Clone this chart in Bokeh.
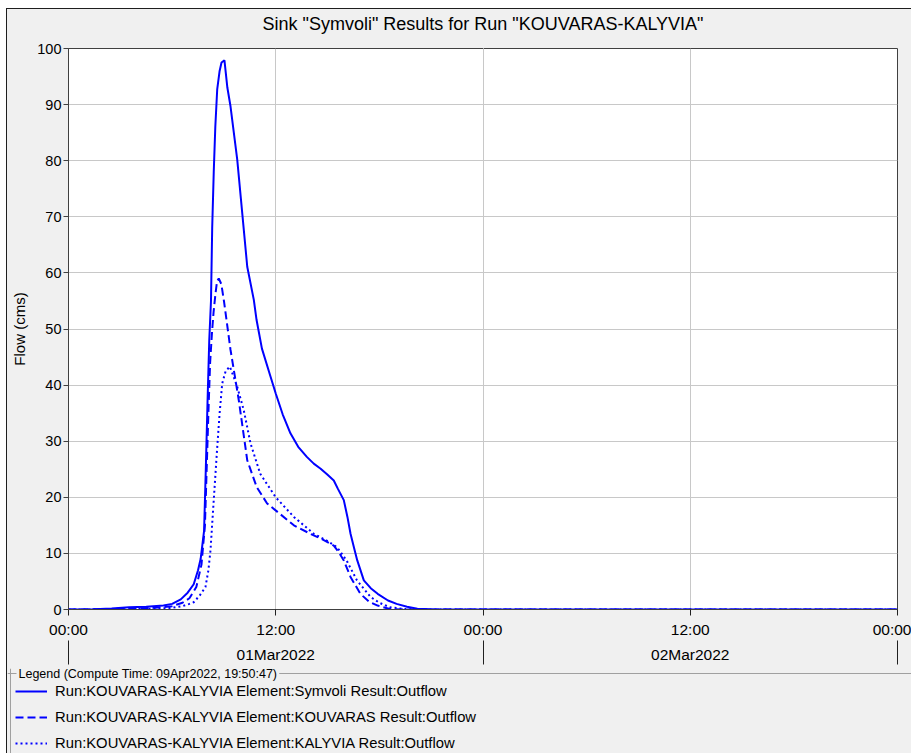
from bokeh.plotting import figure
from bokeh.layouts import column
from bokeh.models import (FixedTicker, LinearAxis, Legend, LegendItem, Label,
                          Span, Range1d, Title)
from bokeh.embed import file_html
from bokeh.resources import INLINE

# Time axis: hours after 01Mar2022 00:00
time_ticks = [0, 12, 24, 36, 48]
time_labels = ["00:00", "12:00", "00:00", "12:00", "00:00"]
day_ticks = [12, 36]
day_bounds = [0, 24, 48]
day_labels = ["01Mar2022", "02Mar2022"]
flow_ticks = [0, 10, 20, 30, 40, 50, 60, 70, 80, 90, 100]

# Sink "Symvoli" outflow (cms)
symvoli_t = [0, 1.5, 2.5, 3.5, 4.5, 5.5, 6.0, 6.5, 6.9, 7.25, 7.5, 7.65, 7.85,
             7.95, 8.05, 8.15, 8.25, 8.32, 8.41, 8.5, 8.61, 8.75, 8.86, 9.03,
             9.2, 9.38, 9.77, 10.35, 10.73, 10.89, 11.2, 11.7, 12.0, 12.4,
             12.85, 13.3, 13.8, 14.2, 14.6, 15.0, 15.36, 15.6, 15.94, 16.15,
             16.33, 16.55, 16.72, 17.1, 17.5, 17.9, 18.5, 19.0, 19.6, 20.2,
             21.0, 22.0, 48.0]
symvoli_q = [0, 0.05, 0.2, 0.4, 0.5, 0.7, 1.0, 1.8, 3.0, 4.5, 7.0, 9.0, 14.0,
             25.0, 37.0, 48.0, 55.0, 68.0, 78.0, 86.0, 92.7, 96.0, 97.5, 97.9,
             93.0, 89.7, 80.2, 61.1, 55.2, 51.6, 46.5, 41.5, 38.5, 34.8,
             31.4, 29.0, 27.2, 26.0, 25.1, 24.0, 23.0, 21.5, 19.5, 16.5,
             13.5, 10.8, 8.75, 5.2, 3.8, 2.8, 1.6, 1.0, 0.5, 0.15,
             0.05, 0, 0]

# KOUVARAS outflow (cms)
kouvaras_t = [0, 2.0, 3.5, 5.0, 6.0, 6.6, 7.0, 7.4, 7.7, 7.9, 8.0, 8.1, 8.2,
              8.3, 8.4, 8.5, 8.6, 8.7, 8.85, 9.0, 9.15, 9.38, 9.86, 10.35,
              10.9, 11.5, 12.1, 13.05, 14.0, 14.7, 15.36, 15.65, 15.94, 16.33,
              16.9, 17.4, 17.9, 18.6, 19.5, 48.0]
kouvaras_q = [0, 0.05, 0.2, 0.3, 0.6, 1.2, 2.0, 4.0, 8.0, 15.0, 25.0, 35.0, 44.0,
              49.0, 53.0, 56.0, 58.5, 59.0, 58.0, 55.0, 51.6, 46.3, 37.3, 26.6,
              21.8, 18.9, 17.4, 15.0, 13.5, 12.5, 11.4, 10.2, 8.75, 5.8,
              2.8, 1.4, 0.7, 0.1, 0, 0]

# KALYVIA outflow (cms)
kalyvia_t = [0, 3.0, 5.0, 6.0, 6.6, 7.0, 7.25, 7.6, 7.93, 8.1, 8.22, 8.41, 8.6,
             8.75, 8.9, 9.1, 9.34, 9.5, 9.77, 10.15, 10.54, 11.1, 12.0, 13.05,
             14.2, 15.0, 15.55, 16.1, 16.7, 17.5, 18.0, 18.6, 19.4, 20.5, 48.0]
kalyvia_q = [0, 0.05, 0.15, 0.3, 0.6, 1.0, 1.3, 2.5, 4.0, 7.0, 10.5, 19.5, 28.4,
             35.0, 40.3, 42.5, 43.3, 42.0, 39.7, 35.5, 29.6, 24.2, 20.0, 16.5,
             13.5, 12.2, 11.1, 8.75, 5.2, 2.2, 1.2, 0.4, 0.1, 0, 0]

series = [
    ("Run:KOUVARAS-KALYVIA Element:Symvoli Result:Outflow", symvoli_t, symvoli_q, None),
    ("Run:KOUVARAS-KALYVIA Element:KOUVARAS Result:Outflow", kouvaras_t, kouvaras_q, "8 4"),
    ("Run:KOUVARAS-KALYVIA Element:KALYVIA Result:Outflow", kalyvia_t, kalyvia_q, "2 3"),
]

FONT = "Liberation Sans"
BLUE = "#0000ff"
PANEL = "#f0f0f0"
W = 904

# ---- hydrograph ----
p = figure(width=W, height=659,
           x_range=Range1d(0, 48), y_range=Range1d(0, 100),
           output_backend="svg", toolbar_location=None,
           min_border_left=61, min_border_right=14, min_border_top=39,
           min_border_bottom=59,
           background_fill_color="white", border_fill_color=PANEL,
           outline_line_color="#404040", title=None)

for name, t, q, dash in series:
    kw = {} if dash is None else {"line_dash": dash}
    p.line(t, q, line_color=BLUE, line_width=2, **kw)

# grid
p.xgrid.ticker = FixedTicker(ticks=time_ticks)
p.ygrid.ticker = FixedTicker(ticks=flow_ticks)
p.grid.grid_line_color = "#c8c8c8"
p.grid.grid_line_width = 1

# y axis
ya = p.left[0]
ya.ticker = FixedTicker(ticks=flow_ticks)
ya.axis_label = "Flow (cms)"
ya.axis_label_text_font = FONT
ya.axis_label_text_font_size = "15px"
ya.axis_label_text_font_style = "normal"
ya.axis_label_text_color = "#000000"
ya.axis_label_standoff = 6
ya.major_label_text_font = FONT
ya.major_label_text_font_size = "14.5px"
ya.major_label_text_color = "#000000"
ya.major_label_standoff = 2
ya.major_tick_in = 0
ya.major_tick_out = 5
ya.minor_tick_line_color = None
ya.axis_line_color = "#404040"
ya.major_tick_line_color = "#404040"

# time-of-day axis
xa = p.below[0]
xa.ticker = FixedTicker(ticks=time_ticks)
xa.major_label_overrides = {t: s for t, s in zip(time_ticks, time_labels)}
xa.major_label_text_font = FONT
xa.major_label_text_font_size = "15.5px"
xa.major_label_text_color = "#000000"
xa.major_label_standoff = 5
xa.major_tick_in = 0
xa.major_tick_out = 6
xa.minor_tick_line_color = None
xa.axis_line_color = "#404040"
xa.major_tick_line_color = "#202020"

# date axis with day separators
da = LinearAxis(ticker=FixedTicker(ticks=day_ticks, minor_ticks=day_bounds))
da.major_label_overrides = {t: s for t, s in zip(day_ticks, day_labels)}
da.major_label_text_font = FONT
da.major_label_text_font_size = "15.5px"
da.major_label_text_color = "#000000"
da.major_label_standoff = -19
da.axis_line_color = None
da.major_tick_line_color = None
da.major_tick_in = 0
da.major_tick_out = 0
da.minor_tick_in = 0
da.minor_tick_out = 24
da.minor_tick_line_color = "#202020"
p.add_layout(da, "below")

# blank strip between the frame and the title (ticks drawn in the panel colour)
gap = LinearAxis(ticker=FixedTicker(ticks=[24]), axis_line_color=None,
                 major_tick_line_color=PANEL, minor_tick_line_color=None,
                 major_tick_in=0, major_tick_out=10, minor_tick_in=0,
                 minor_tick_out=0, major_label_standoff=0,
                 major_label_overrides={24: ""},
                 major_label_text_font_size="1px")
p.add_layout(gap, "above")

title = Title(text='Sink "Symvoli" Results for Run "KOUVARAS-KALYVIA"',
              align="center", vertical_align="top", offset=-13, standoff=6,
              text_font=FONT, text_font_size="18px",
              text_font_style="normal", text_color="#000000")
p.add_layout(title, "above")

# ---- legend strip (pixel-like coordinates, y downwards) ----
LH = 85
lg = figure(width=W, height=LH, x_range=Range1d(0, W), y_range=Range1d(LH, 0),
            output_backend="svg", toolbar_location=None,
            x_axis_location=None, y_axis_location=None,
            min_border=0, background_fill_color=PANEL, border_fill_color=PANEL,
            outline_line_color=None)
lg.grid.visible = False
for fig in (p, lg):
    if "frame_align" in fig.properties():
        fig.frame_align = False

items = []
for name, t, q, dash in series:
    kw = {} if dash is None else {"line_dash": dash}
    r = lg.line(t, q, line_color=BLUE, line_width=2, visible=False, **kw)
    items.append(LegendItem(label=name, renderers=[r]))

# group box edges, then its caption over the top edge
lg.add_layout(Span(location=3, dimension="height", line_color="#a0a0a0", line_width=1))
lg.add_layout(Span(location=5, dimension="width", line_color="#a0a0a0", line_width=1))
lg.add_layout(Label(x=9, y=5, text="Legend (Compute Time: 09Apr2022, 19:50:47)",
                    text_font=FONT, text_font_size="12.5px", text_color="#000000",
                    text_baseline="middle", background_fill_color=PANEL,
                    padding=2))

legend = Legend(items=items, location=(8, 0))
legend.padding = 0
legend.margin = 0
legend.spacing = 6
legend.glyph_width = 32
legend.glyph_height = 20
legend.label_height = 20
legend.label_standoff = 8
legend.label_text_font = FONT
legend.label_text_font_size = "14.8px"
legend.label_text_color = "#000000"
legend.border_line_alpha = 0
legend.background_fill_alpha = 0
legend.inactive_fill_alpha = 0
lg.add_layout(legend)

page = column(p, lg, spacing=0, margin=(8, 0, 0, 6),
              styles={"border-left": "1px solid #1e1e1e",
                      "border-top": "1px solid #1e1e1e",
                      "background-color": PANEL})

open("out.html", "w").write(file_html(page, INLINE))
